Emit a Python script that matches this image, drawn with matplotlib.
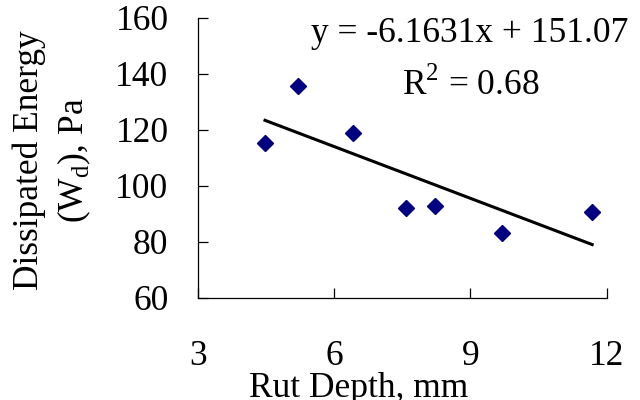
import matplotlib
matplotlib.use("Agg")
import matplotlib.pyplot as plt

# Rut depth (mm) vs dissipated energy (Pa)
rut_depth = [4.48, 5.20, 6.41, 7.58, 8.22, 9.69, 11.68]
energy = [115.5, 135.8, 119.0, 92.0, 92.9, 83.3, 90.6]

# linear trendline as reported on the chart
slope = -6.1631
intercept = 151.07
r_squared = 0.68

x_ticks = [3, 6, 9, 12]
y_ticks = [60, 80, 100, 120, 140, 160]

plt.rcParams['font.family'] = ['Liberation Serif', 'DejaVu Serif']
plt.rcParams['mathtext.fontset'] = 'custom'
plt.rcParams['mathtext.rm'] = 'Liberation Serif'
plt.rcParams['font.size'] = 25.5

fig = plt.figure(figsize=(6.4, 4), dpi=100)
ax = fig.add_axes([0.309, 0.255, 0.639, 0.70])

ax.plot(rut_depth, energy, linestyle='none', marker='D', markersize=8.5,
        color='#000080', zorder=3)

x_fit = [min(rut_depth), max(rut_depth)]
y_fit = [slope * x + intercept for x in x_fit]
ax.plot(x_fit, y_fit, color='black', linewidth=2.2, zorder=2)

ax.set_xlim(3, 12)
ax.set_ylim(60, 160)
ax.set_xticks(x_ticks)
ax.set_yticks(y_ticks)

for side in ['top', 'right']:
    ax.spines[side].set_visible(False)
for side in ['left', 'bottom']:
    ax.spines[side].set_linewidth(0.9)

ax.tick_params(axis='both', direction='in', length=7, width=0.9)
ax.tick_params(axis='y', pad=21)
ax.tick_params(axis='x', pad=30)

ax.text(0.665, 0.915, f"y = {slope}x + {intercept}", transform=ax.transAxes,
        ha='center', va='baseline', clip_on=False)
ax.text(0.668, 0.725, r"R$^2$ = " + f"{r_squared}", transform=ax.transAxes,
        ha='center', va='baseline', clip_on=False)

ax.set_xlabel("Rut Depth, mm")
ax.xaxis.set_label_coords(0.394, -0.355)
ax.xaxis.label.set_va('baseline')

ax.set_ylabel("Dissipated Energy\n(W$_\\mathrm{d}$), Pa", multialignment='center',
              linespacing=1.35)
ax.yaxis.set_label_coords(-0.355, 0.493)
ax.yaxis.label.set_va('center')

fig.savefig("out.png", dpi=100)
